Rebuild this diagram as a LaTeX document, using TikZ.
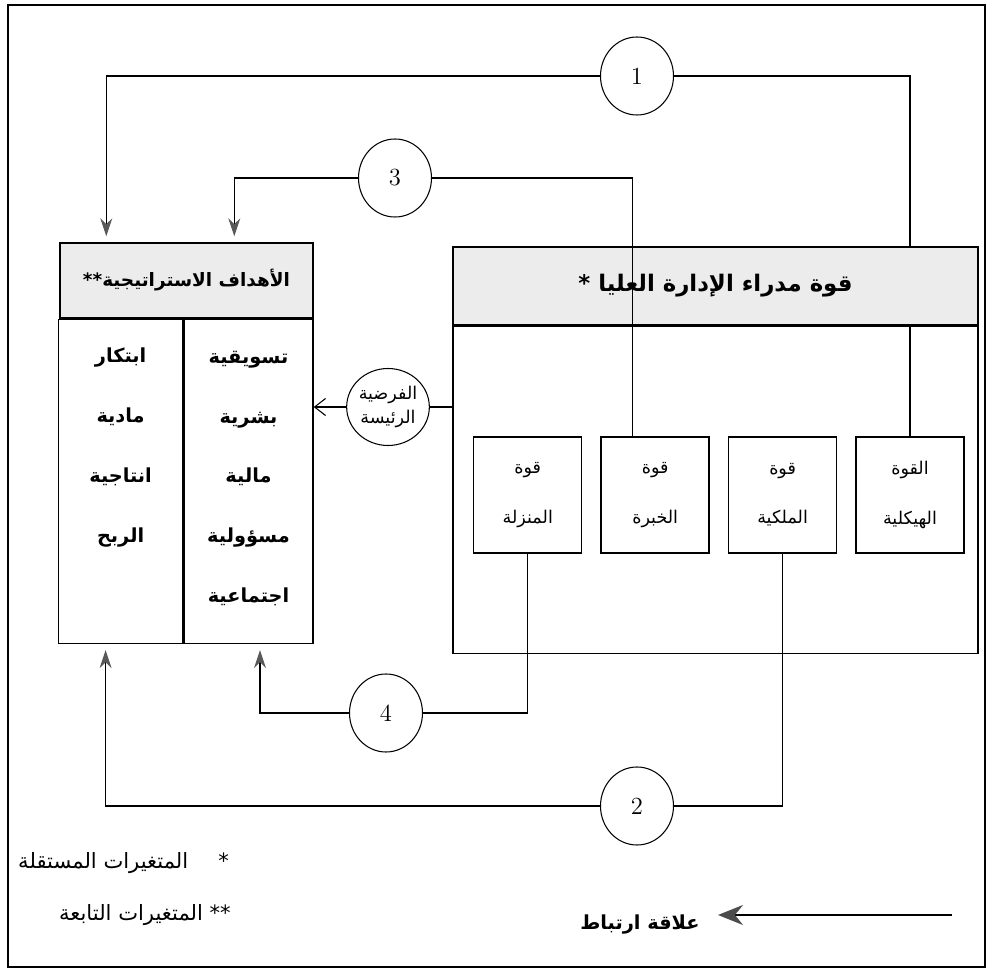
\documentclass[tikz,border=0pt]{standalone}
\usepackage{fontspec}
\newfontfamily\arabicfont[Script=Arabic]{DejaVu Sans}
\TeXXeTstate=1
\usetikzlibrary{positioning,shapes.geometric,arrows.meta}
\pgfdeclarelayer{back}
\pgfsetlayers{back,main}
\newcommand{\artxt}[1]{\beginR#1\endR}

\begin{document}
\begin{tikzpicture}[
	headbox/.style={draw, rectangle, fill=gray!15, line width=0.8pt, inner sep=0pt},
	colbox/.style={draw, rectangle, line width=0.8pt, inner sep=0pt},
	wordlist/.style={align=center, inner sep=0pt, font=\arabicfont\bfseries\fontsize{11}{34}\selectfont},
	powerbox/.style={draw, rectangle, line width=0.8pt, minimum width=2.16cm, minimum height=2.32cm, align=center, font=\arabicfont\fontsize{10}{28}\selectfont},
	ring/.style={draw, ellipse, line width=0.6pt, minimum width=1.46cm, minimum height=1.56cm, inner sep=0pt, font=\fontsize{14}{16}\selectfont},
	link/.style={line width=0.6pt},
	goalarrow/.style={link, -{Stealth[length=3.6mm, width=2.4mm, color=gray!70!black]}, shorten >=0.12cm},
	]

	\useasboundingbox (0,0) rectangle (19.96,-19.46);

	% frame of the figure
	\draw[line width=1pt] (0.16,-0.10) rectangle (19.70,-19.34);
	\draw[line width=1.6pt] (0.16,-0.10) -- (19.70,-0.10);

	% dependent variables
	\node[headbox,
	minimum width=5.06cm,
	minimum height=1.50cm,
	font=\arabicfont\bfseries\fontsize{10.5}{12}\selectfont] (goalhead) at (3.73,-5.61) {\artxt{الأهداف الاستراتيجية**}};

	\node[colbox,
	minimum width=2.58cm,
	minimum height=6.48cm,
	anchor=north east] (goalR) at (goalhead.south east) {};

	\node[colbox,
	minimum width=2.48cm,
	minimum height=6.48cm,
	anchor=north east] (goalL) at (goalR.north west) {};

	\node[wordlist] (goalRtxt) at ([yshift=0.06cm]goalR.center) {\artxt{تسويقية}\\\artxt{بشرية}\\\artxt{مالية}\\\artxt{مسؤولية}\\\artxt{اجتماعية}};
	\node[wordlist] (goalLtxt) at ([yshift=0.68cm]goalL.center) {\artxt{ابتكار}\\\artxt{مادية}\\\artxt{انتاجية}\\\artxt{الربح}};

	% independent variables
	\node[headbox,
	minimum width=10.50cm,
	minimum height=1.56cm,
	font=\arabicfont\bfseries\fontsize{13}{15}\selectfont] (topshead) at (14.31,-5.72) {\artxt{قوة مدراء الإدارة العليا *}};

	\node[colbox,
	minimum width=10.50cm,
	minimum height=6.54cm,
	anchor=north] (topsbody) at (topshead.south) {};

	\node[powerbox] (hik) at (18.20,-9.90) {\artxt{القوة}\\\artxt{الهيكلية}};
	\node[powerbox] (mlk) [left = 0.36cm of hik] {\artxt{قوة}\\\artxt{الملكية}};
	\node[powerbox] (khb) [left = 0.36cm of mlk] {\artxt{قوة}\\\artxt{الخبرة}};
	\node[powerbox] (mnz) [left = 0.36cm of khb] {\artxt{قوة}\\\artxt{المنزلة}};

	% relations
	\node[ring] (c1) at (12.74,-1.52) {1};
	\node[ring] (c3) at (7.90,-3.56) {3};
	\node[ring] (c4) at (7.72,-14.26) {4};
	\node[ring] (c2) at (12.74,-16.12) {2};
	\node[ring,
	minimum width=1.54cm,
	minimum height=1.54cm,
	align=center,
	font=\arabicfont\fontsize{10}{14}\selectfont] (hyp) at (7.76,-8.14) {\artxt{الفرضية}\\\artxt{الرئيسة}};

	\begin{pgfonlayer}{back}
		\draw[link] (hik.north) |- (c1);
	\end{pgfonlayer}
	\draw[goalarrow] (c1) -| ([xshift=0.94cm]goalhead.north west);
	\draw[link] ([xshift=-0.46cm]khb.north) |- (c3);
	\draw[goalarrow] (c3) -| ([xshift=3.50cm]goalhead.north west);
	\draw[link] (mnz.south) |- (c4);
	\draw[goalarrow] (c4) -| ([xshift=0.23cm]goalR.south);
	\draw[link] (mlk.south) |- (c2);
	\draw[goalarrow] (c2) -| ([xshift=-0.30cm]goalL.south);
	\draw[link] (topsbody.west |- hyp) -- (hyp);
	\draw[link, -{Straight Barb[length=2.2mm, width=3.4mm]}] (hyp) -- (goalR.east |- hyp);

	% key
	\node[font=\arabicfont\fontsize{12}{14}\selectfont, anchor=east] (indep) at (4.70,-17.26) {\artxt{*\hspace{0.6cm}المتغيرات المستقلة}};
	\node[font=\arabicfont\fontsize{12}{14}\selectfont, anchor=east] (dep) at (4.74,-18.30) {\artxt{** المتغيرات التابعة}};
	\node[font=\arabicfont\bfseries\fontsize{11}{13}\selectfont] (keytxt) at (12.80,-18.50) {\artxt{علاقة ارتباط}};
	\coordinate (keyR) at (19.04,-18.30);
	\coordinate (keyL) at (14.36,-18.30);
	\draw[line width=1.4pt, -{Stealth[length=5mm, width=4mm, color=gray!60!black]}] (keyR) -- (keyL);

\end{tikzpicture}
\end{document}
